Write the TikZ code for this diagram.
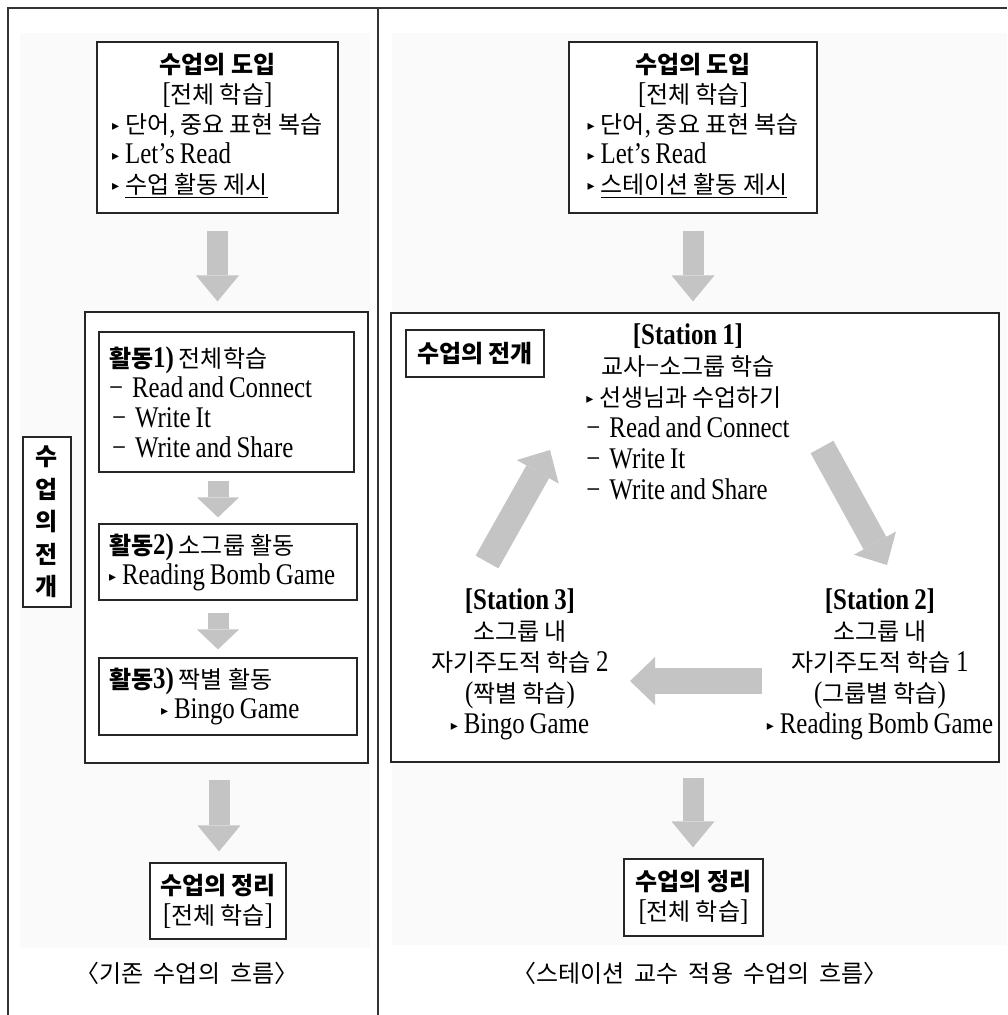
\documentclass[tikz,border=0pt]{standalone}
\usepackage{fontspec}
\usepackage{array}
\setmainfont{Liberation Serif}[FakeStretch=0.83, WordSpace=0.8]
\newfontfamily\kr{Noto Sans CJK KR}[Scale=0.8]
\newfontfamily\symf{DejaVu Sans}
\usetikzlibrary{arrows.meta,positioning}

% hangul is switched to the CJK font on its own
\XeTeXinterchartokenstate=1
\newXeTeXintercharclass\hangulclass
\newcount\hanguli
\hanguli="AC00
\loop
  \XeTeXcharclass\hanguli=\hangulclass
  \advance\hanguli by 1
\ifnum\hanguli<"D7A4 \repeat
\XeTeXcharclass"3008=\hangulclass
\XeTeXcharclass"3009=\hangulclass
\XeTeXinterchartoks 0 \hangulclass={\kr}
\XeTeXinterchartoks 4095 \hangulclass={\kr}
\XeTeXinterchartoks \hangulclass 0={\rmfamily}
\XeTeXinterchartoks \hangulclass 4095={\rmfamily}

\definecolor{arrowgray}{RGB}{196,196,196}
\definecolor{paper}{RGB}{250,250,250}
\newcommand\bul{{\symf\fontsize{14}{14}\selectfont\raisebox{3pt}{▸}}\hspace{6pt}}
\newcommand\dsh{−\hspace{9pt}}

\tikzset{
	panel/.style={draw=black!85, line width=1.2pt, fill=white, inner sep=0pt},
	actbox/.style={panel, text width=240pt, inner xsep=10pt, align=left},
	blockarrow/.style={draw=arrowgray, line width=21pt, -{Triangle[width=43pt,length=26pt,line width=0pt]}},
	smallarrow/.style={draw=arrowgray, line width=21pt, -{Triangle[width=42pt,length=20pt,line width=0pt]}},
	fatarrow/.style={draw=arrowgray, line width=26pt, -{Triangle[width=48pt,length=25pt,line width=0pt]}},
}

\begin{document}
\begin{tikzpicture}[x=1pt,y=-1pt, every node/.style={font=\fontsize{30}{30}\selectfont}]
	\useasboundingbox (0,0) rectangle (1007,1015);
	\fill[paper] (20,33) rectangle (370,948);
	\fill[paper] (392,33) rectangle (1007,945);
	\draw[black!80, line width=1.2pt] (8,1015) -- (8,8) -- (1007,8);
	\draw[black!80, line width=1.2pt] (378,8) -- (378,1015);

	% left: usual lesson
	\node[panel, minimum width=241pt, minimum height=171pt] (introA) at (217.5,127.5) {\begin{tabular}{@{}l@{}}
		\multicolumn{1}{@{}c@{}}{\textbf{수업의 도입}}\\
		\multicolumn{1}{@{}c@{}}{[전체 학습]}\\
		\bul 단어, 중요 표현 복습\\
		\bul Let's Read\\
		\bul \underline{수업 활동 제시}
	\end{tabular}};
	\node[panel, minimum width=283pt, minimum height=451pt] (devA) at (226.5,537.5) {};
	\node[actbox, text width=235pt, minimum height=140pt] (act1) at (226.5,402) {\spaceskip=0pt\relax
		\textbf{활동1)} 전체학습\\
		\dsh Read and Connect\\
		\hspace*{3pt}\dsh Write It\\
		\hspace*{3pt}\dsh Write and Share};
	\node[actbox, text width=238pt, minimum height=76pt] (act2) at (228,562) {\spaceskip=0pt\relax
		\textbf{활동2)} 소그룹 활동\\
		\bul Reading Bomb Game};
	\node[actbox, text width=238pt, minimum height=77pt] (act3) at (228,696.5) {\spaceskip=0pt\relax
		\textbf{활동3)} 짝별 활동\\
		\hspace*{52pt}\bul Bingo Game};
	\node[panel, minimum width=48pt, minimum height=170pt, align=center, font=\fontsize{30}{32.5}\selectfont\bfseries] (labA) at (47,522) {수\\업\\의\\전\\개};
	\node[panel, minimum width=136pt, minimum height=76pt, align=center] (sumA) at (218,901) {\textbf{수업의 정리}\\{[}전체 학습{]}};
	\node (capA) at (187,973) {〈기존~~수업의~~흐름〉};

	\draw[blockarrow, shorten <=17pt, shorten >=10pt] (introA.south) -- (introA.south |- devA.north);
	\draw[smallarrow, shorten <=8pt, shorten >=6pt] ([xshift=-8.5pt]act1.south) -- ([xshift=-10pt]act2.north);
	\draw[smallarrow, shorten <=12pt, shorten >=8pt] ([xshift=-10pt]act2.south) -- ([xshift=-10pt]act3.north);
	\draw[blockarrow, shorten <=16pt, shorten >=11pt] ([xshift=-7.5pt]devA.south) -- ([xshift=1pt]sumA.north);

	% right: station lesson
	\node[panel, minimum width=248pt, minimum height=171pt] (introB) at (693,127.5) {\begin{tabular}{@{}l@{}}
		\multicolumn{1}{@{}c@{}}{\textbf{수업의 도입}}\\
		\multicolumn{1}{@{}c@{}}{[전체 학습]}\\
		\bul 단어, 중요 표현 복습\\
		\bul Let's Read\\
		\bul \underline{스테이션 활동 제시}
	\end{tabular}};
	\node[panel, minimum width=608pt, minimum height=449pt] (devB) at (695,537.5) {};
	\node[panel, minimum width=138pt, minimum height=47pt] (labB) at (475,353.5) {\textbf{수업의 전개}};
	\node[font=\fontsize{30}{31}\selectfont] (st1) at (688,416) {\begin{tabular}{@{}l@{}}
		\multicolumn{1}{@{}c@{}}{\textbf{[Station 1]}}\\
		\multicolumn{1}{@{}c@{}}{교사−소그룹 학습}\\
		\bul 선생님과 수업하기\\
		\dsh Read and Connect\\
		\dsh Write It\\
		\dsh Write and Share
	\end{tabular}};
	\node[align=center, font=\fontsize{30}{31}\selectfont] (st2) at (880,664.5) {\textbf{[Station 2]}\\
		소그룹 내\\
		자기주도적 학습 1\\
		(그룹별 학습)\\
		\bul Reading Bomb Game};
	\node[align=center, font=\fontsize{30}{31}\selectfont] (st3) at (520,664.5) {\textbf{[Station 3]}\\
		소그룹 내\\
		자기주도적 학습 2\\
		(짝별 학습)\\
		\bul Bingo Game};
	\coordinate (r1) at (822,447);
	\coordinate (r2) at (887,565);
	\coordinate (b1) at (762,681);
	\coordinate (b2) at (630,681);
	\coordinate (l1) at (487,562);
	\coordinate (l2) at (550,450);
	\draw[fatarrow] (r1) -- (r2);
	\draw[fatarrow] (b1) -- (b2);
	\draw[fatarrow] (l1) -- (l2);
	\node[panel, minimum width=139pt, minimum height=77pt, align=center] (sumB) at (693.5,897.5) {\textbf{수업의 정리}\\{[}전체 학습{]}};
	\node (capB) at (700,973) {〈스테이션~~교수~~적용~~수업의~~흐름〉};

	\draw[blockarrow, shorten <=17pt, shorten >=11pt] (introB.south) -- (introB.south |- devB.north);
	\draw[blockarrow, shorten <=15pt, shorten >=11pt] ([xshift=-2pt]devB.south) -- ([xshift=-0.5pt]sumB.north);
\end{tikzpicture}
\end{document}
